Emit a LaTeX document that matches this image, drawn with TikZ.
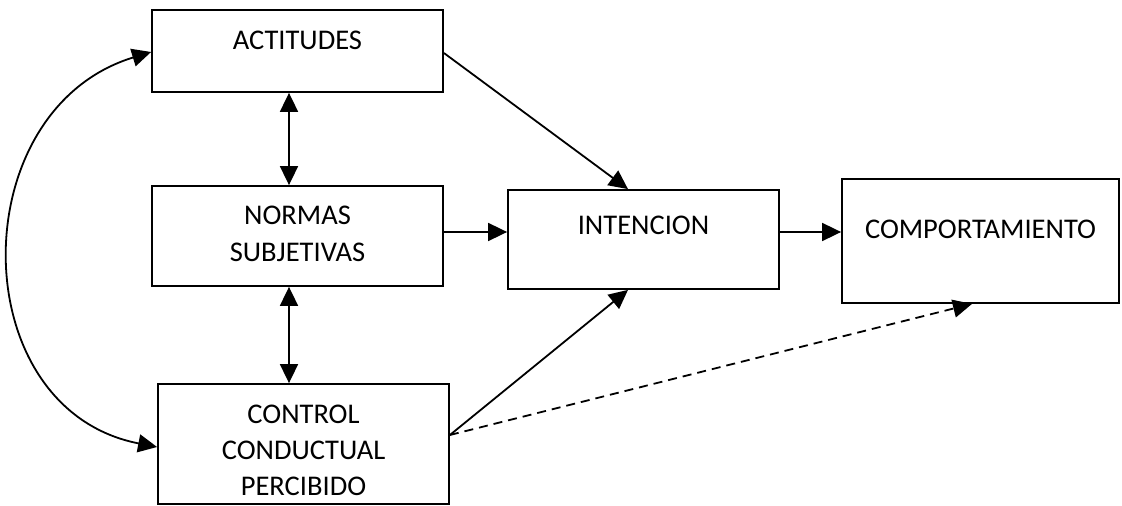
\documentclass[tikz,border=0pt]{standalone}
\usepackage{fontspec}
\setmainfont{Carlito}
\usetikzlibrary{arrows.meta,calc}
\begin{document}
\begin{tikzpicture}[x=1pt,y=1pt,
  box/.style={draw=black,line width=1.8pt,inner sep=0pt},
  lbl/.style={font=\fontsize{28.5}{37}\selectfont,align=center,inner sep=0pt},
  conn/.style={line width=1.8pt,-{Triangle[length=19pt,width=18pt]}},
  biconn/.style={line width=1.8pt,{Triangle[length=19pt,width=18pt]}-{Triangle[length=19pt,width=18pt]}},
  dconn/.style={conn,dash pattern=on 9pt off 6pt}]
\useasboundingbox (0,0) rectangle (1122,506);
% boxes
\node[box,minimum width=291pt,minimum height=82pt] (act) at (297.5,455) {};
\node[box,minimum width=291pt,minimum height=100pt] (norm) at (297.5,270) {};
\node[box,minimum width=271pt,minimum height=99pt] (int) at (643.5,266.5) {};
\node[box,minimum width=277pt,minimum height=124pt] (comp) at (980.5,265) {};
\node[box,minimum width=291pt,minimum height=120pt] (ctrl) at (303.5,62) {};
% labels
\node[lbl] (actl) at (297.5,466) {ACTITUDES};
\node[lbl] (norml) at (297.5,272.5) {NORMAS\\SUBJETIVAS};
\node[lbl] (intl) at (643.5,281) {INTENCION};
\node[lbl] (compl) at (980.5,277) {COMPORTAMIENTO};
\node[lbl,font=\fontsize{28.5}{36}\selectfont] (ctrll) at (303.5,56) {CONTROL\\CONDUCTUAL\\PERCIBIDO};
% helper coordinates
\coordinate (asx) at ([xshift=-8.5pt]act.south);
\coordinate (nsx) at ([xshift=-8.5pt]norm.south);
\coordinate (nex) at ([yshift=4pt]norm.east);
\coordinate (iex) at ([yshift=7.5pt]int.east);
\coordinate (cex) at ([yshift=9pt]ctrl.east);
% connectors
\draw[biconn] (asx) -- (asx |- norm.north);
\draw[biconn] (nsx) -- (nsx |- ctrl.north);
\draw[conn] ([yshift=-2pt]act.east) -- ([xshift=-15.5pt]int.north);
\draw[conn] (nex) -- (nex -| int.west);
\draw[conn] (iex) -- (iex -| comp.west);
\draw[conn] (cex) -- ([xshift=-15.5pt]int.south);
\draw[dconn] (cex) -- ([xshift=-8.5pt]comp.south);
\draw[biconn] ([yshift=-1pt]act.west) .. controls +(197:198pt) and +(169:198pt) .. ([yshift=-3pt]ctrl.west);
\end{tikzpicture}
\end{document}
